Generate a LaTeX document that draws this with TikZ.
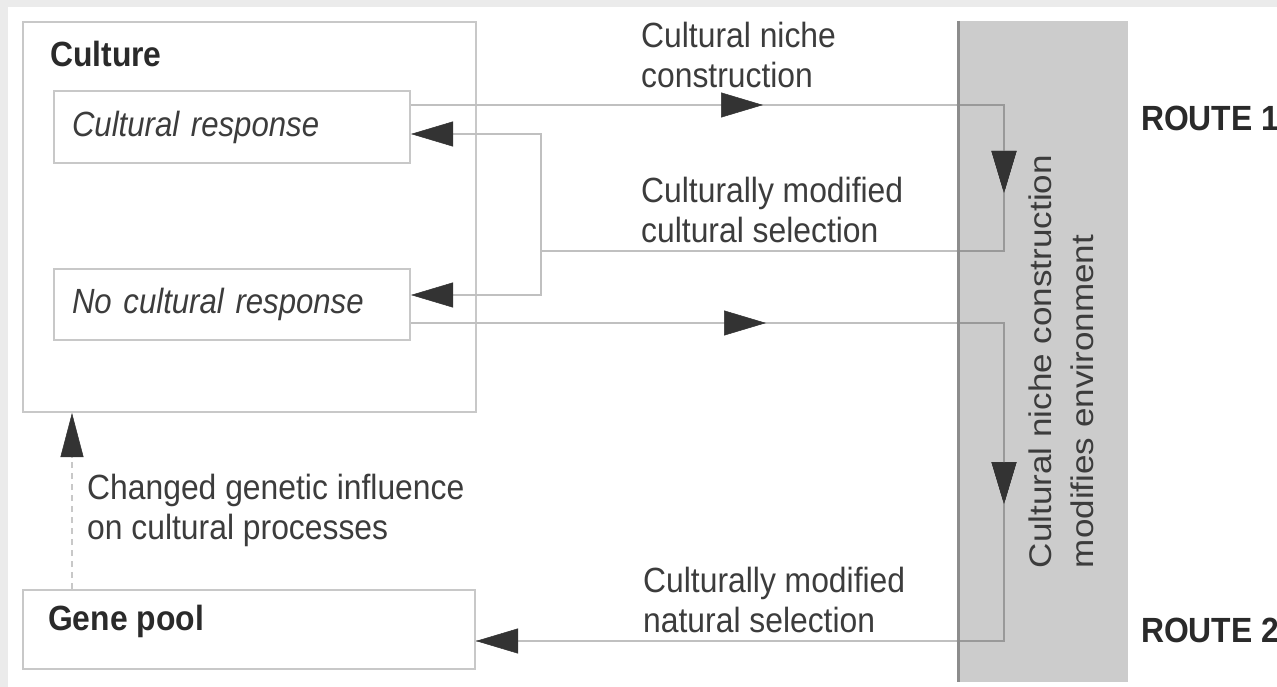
\documentclass[tikz,border=0pt]{standalone}
\usepackage{fontspec}
\setmainfont{Liberation Sans}
\newfontfamily\hfont{Liberation Sans}[FakeStretch=0.91]
\newfontfamily\ifont{Liberation Sans}[FakeStretch=0.89]
\newfontfamily\vfont{Liberation Sans}[FakeStretch=1.12]
\usetikzlibrary{arrows.meta,decorations.markings,calc}
\definecolor{bgc}{HTML}{EBEBEB}
\definecolor{boxc}{HTML}{C8C8C8}
\definecolor{linec}{HTML}{C0C0C0}
\definecolor{darkline}{HTML}{999999}
\definecolor{panelc}{HTML}{CCCCCC}
\definecolor{edgec}{HTML}{8C8C8C}
\definecolor{tipc}{HTML}{333333}
\definecolor{txtc}{HTML}{3C3C3C}
\definecolor{titlec}{HTML}{2A2A2A}
\tikzset{
  bigtri/.tip={Triangle[length=42pt,width=25pt,color=tipc,line width=0.5pt]},
  uptri/.tip={Triangle[length=44pt,width=23pt,color=tipc,line width=0.5pt]},
  box/.style={draw=boxc,line width=2pt,inner sep=0pt},
  textbox/.style={box,minimum width=356pt,text width=320pt,inner xsep=18pt,align=left,
    font=\ifont\itshape\fontsize{35}{40}\selectfont,text=txtc},
  lab/.style={font=\hfont\fontsize{35}{40}\selectfont,text=txtc,align=left,inner sep=0pt,anchor=west},
  title/.style={font=\hfont\bfseries\fontsize{35}{40}\selectfont,text=titlec,inner sep=0pt,anchor=base west},
  conn/.style={draw=linec,line width=2pt},
  connd/.style={draw=darkline,line width=2pt},
  marksA/.style={postaction={decorate},decoration={markings,
    mark=at position 352pt with {\arrow{bigtri}},
    mark=at position 681pt with {\arrow{bigtri}}}},
  marksB/.style={postaction={decorate},decoration={markings,
    mark=at position 355pt with {\arrow{bigtri}},
    mark=at position 774pt with {\arrow{bigtri}}}},
}
\begin{document}
\begin{tikzpicture}[x=1pt,y=-1pt]
\fill[bgc] (0,0) rectangle (1277,687);
\fill[white] (8,7) rectangle (1277,687);
\useasboundingbox (0,0) rectangle (1277,687);

% panel
\node[fill=panelc,minimum width=171pt,minimum height=661pt,inner sep=0pt] (panel) at (1042.5,351.5) {};

% boxes
\node[box,minimum width=453pt,minimum height=390pt] (culture) at (249.5,217) {};
\node[title] (culturelab) at (50,67) {Culture};
\node[textbox,minimum height=72pt] (cr) at (232,127) {Cultural response};
\node[textbox,minimum height=71pt] (ncr) at (232,304.5) {No cultural response};
\node[box,minimum width=452pt,minimum height=79pt] (gene) at (249,629.5) {};
\node[title] (genelab) at (48,630) {Gene pool};

% junction coordinates
\coordinate (a1) at (1004,105);
\coordinate (a2) at (1004,251);
\coordinate (j) at (541,251);
\coordinate (jt) at (541,134);
\coordinate (jb) at (541,295);
\coordinate (b1) at (1004,323);
\coordinate (b2) at (1004,641);
\coordinate (d) at (72,500);

% route 1
\draw[conn,marksA] (cr.east |- a1) -- (a1) -- (a2) -- (j);
\draw[conn,-bigtri] (j) |- (cr.east |- jt);
\draw[conn,-bigtri] (j) |- (ncr.east |- jb);
% route 2
\draw[conn,marksB] (ncr.east |- b1) -- (b1) -- (b2) -- (gene.east |- b2);
\draw[conn,-bigtri] (b2) -- (gene.east |- b2);

% darker segments over the panel
\begin{scope}
  \clip (panel.south west) rectangle (panel.north east);
  \draw[connd,marksA] (cr.east |- a1) -- (a1) -- (a2) -- (j);
  \draw[connd,marksB] (ncr.east |- b1) -- (b1) -- (b2) -- (gene.east |- b2);
\end{scope}
\draw[edgec,line width=3pt] ([xshift=1.5pt]panel.north west) -- ([xshift=1.5pt]panel.south west);

% dashed genetic influence
\draw[draw=boxc,line width=2pt,dash pattern=on 6pt off 5pt,-uptri] (gene.north -| d) -- (culture.south -| d);

% labels
\node[lab] (l1) at (641,55) {Cultural niche\\construction};
\node[lab] (l2) at (641,210) {Culturally modified\\cultural selection};
\node[lab] (l3) at (643,600) {Culturally modified\\natural selection};
\node[lab] (l4) at (87,510.5) {Changed genetic influence\\on cultural processes};
\node[font=\vfont\fontsize{31.3}{42}\selectfont,rotate=90,align=left,text=txtc,inner sep=0pt] (env) at (1061,361.5) {Cultural niche construction\\modifies environment};
\node[title] (route1) at (1141,130.5) {ROUTE 1};
\node[title] (route2) at (1141,642.5) {ROUTE 2};
\end{tikzpicture}
\end{document}
